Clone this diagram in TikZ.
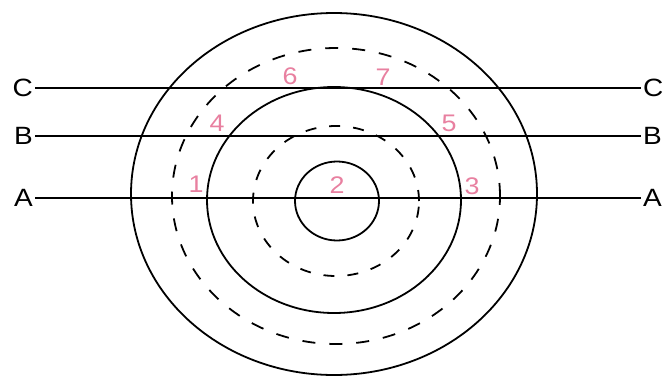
\documentclass[tikz,border=0pt]{standalone}
\usepackage{fontspec}
\setmainfont{Liberation Sans}
\definecolor{numpink}{RGB}{232,128,160}
\tikzset{
  ring/.style={line width=1.8pt, black},
  dashring/.style={line width=1.8pt, black, dash pattern=on 13pt off 14pt},
  cut/.style={line width=1.5pt, black},
  letterlbl/.style={inner xsep=2pt, inner ysep=0pt, font=\fontsize{25}{25}\selectfont},
  numlbl/.style={inner sep=0pt, text=numpink, font=\fontsize{24}{24}\selectfont}
}
\newcommand{\wide}[1]{\scalebox{1.12}[1]{#1}}
\begin{document}
\begin{tikzpicture}[x=1pt,y=-1pt]
\useasboundingbox (0,0) rectangle (668,377);
% rings
\draw[ring] (334,194) ellipse [x radius=203pt, y radius=181pt];
\draw[dashring] (336,196) ellipse [x radius=164pt, y radius=148pt];
\draw[ring] (334,200) ellipse [x radius=127pt, y radius=113pt];
\draw[dashring, dash pattern=on 11pt off 13pt] (336,201) ellipse [x radius=83pt, y radius=75pt];
\draw[ring] (337,201) ellipse [x radius=42pt, y radius=39.5pt];
% section lines
\node[letterlbl, anchor=east] (Cl) at (35,88) {\wide{C}};
\node[letterlbl, anchor=west] (Cr) at (641,88) {\wide{C}};
\node[letterlbl, anchor=east] (Bl) at (35,136) {\wide{B}};
\node[letterlbl, anchor=west] (Br) at (641,136) {\wide{B}};
\node[letterlbl, anchor=east] (Al) at (35,198) {\wide{A}};
\node[letterlbl, anchor=west] (Ar) at (641,198) {\wide{A}};
\draw[cut] (Cl) -- (Cr);
\draw[cut] (Bl) -- (Br);
\draw[cut] (Al) -- (Ar);
% numbers
\node[numlbl] (n6) at (290,76) {\wide{6}};
\node[numlbl] (n7) at (383,77) {\wide{7}};
\node[numlbl] (n4) at (217,123) {\wide{4}};
\node[numlbl] (n5) at (449,123) {\wide{5}};
\node[numlbl] (n1) at (196,184) {\wide{1}};
\node[numlbl] (n2) at (337,185) {\wide{2}};
\node[numlbl] (n3) at (472,186) {\wide{3}};
\end{tikzpicture}
\end{document}
